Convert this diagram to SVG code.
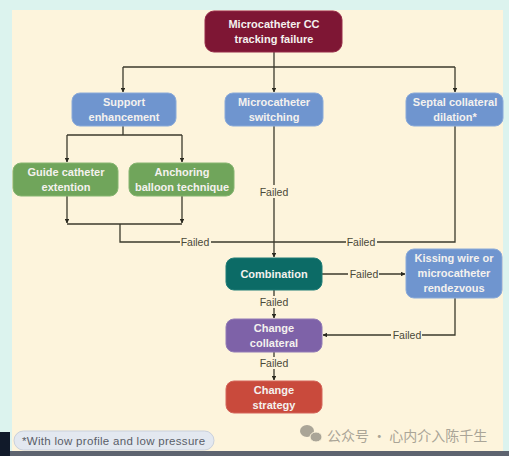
<svg xmlns="http://www.w3.org/2000/svg" width="509" height="456" viewBox="0 0 509 456">
<defs>
<style>
.node text{font-family:"Liberation Sans",Arial,sans-serif;font-size:11px;font-weight:bold;fill:#f4f1ee;text-anchor:middle}
.conn path{fill:none;stroke:#3b3a2c;stroke-width:1.3}
.lbl{font-family:"Liberation Sans",Arial,sans-serif;font-size:10.5px;fill:#4a4838;text-anchor:middle}
.lblbg{fill:#fdf4dc}
.blue{fill:#6f95cf;stroke:#8aaad9;stroke-width:1}
.green{fill:#70a55b;stroke:#86b571;stroke-width:1}
</style>
<marker id="ah" viewBox="0 0 10 10" refX="9" refY="5" markerWidth="4.5" markerHeight="4.5" orient="auto" markerUnits="userSpaceOnUse">
<path d="M0,0 L10,5 L0,10 z" fill="#2b2a20"/>
</marker>
</defs>
<rect x="0" y="0" width="509" height="456" fill="#dcf3ee"/>
<rect x="12" y="10" width="491" height="443" fill="#fdf4dc"/>
<rect x="0" y="451" width="509" height="5" fill="#5e6470"/>
<rect x="0" y="432" width="10" height="24" fill="#111a2a"/>

<g class="conn" id="connectors">
<path d="M274 52 V67"/>
<path d="M123 67 H455"/>
<path d="M123 67 V92" marker-end="url(#ah)"/>
<path d="M274 67 V92" marker-end="url(#ah)"/>
<path d="M455 67 V92" marker-end="url(#ah)"/>
<path d="M123 126 V135"/>
<path d="M67 135 H182"/>
<path d="M67 135 V162" marker-end="url(#ah)"/>
<path d="M182 135 V162" marker-end="url(#ah)"/>
<path d="M67 196 V223" marker-end="url(#ah)"/>
<path d="M182 196 V223" marker-end="url(#ah)"/>
<path d="M67 224 H182"/>
<path d="M120 224 V242 H455 V126"/>
<path d="M274 126 V257" marker-end="url(#ah)"/>
<path d="M322 274 H405" marker-end="url(#ah)"/>
<path d="M274 290 V318" marker-end="url(#ah)"/>
<path d="M455 298 V335 H323" marker-end="url(#ah)"/>
<path d="M274 352 V380" marker-end="url(#ah)"/>
<rect class="lblbg" x="180" y="236" width="31" height="12"/>
<text class="lbl" x="195" y="246">Failed</text>
<rect class="lblbg" x="346" y="236" width="31" height="12"/>
<text class="lbl" x="361" y="246">Failed</text>
<rect class="lblbg" x="259" y="185" width="31" height="13"/>
<text class="lbl" x="274" y="196">Failed</text>
<rect class="lblbg" x="348" y="268" width="31" height="12"/>
<text class="lbl" x="364" y="278">Failed</text>
<rect class="lblbg" x="259" y="296" width="31" height="12"/>
<text class="lbl" x="274" y="306">Failed</text>
<rect class="lblbg" x="391" y="329" width="31" height="12"/>
<text class="lbl" x="407" y="339">Failed</text>
<rect class="lblbg" x="259" y="357" width="31" height="12"/>
<text class="lbl" x="274" y="367">Failed</text>
</g>

<g class="node" id="n-failure">
<rect x="205" y="11" width="137" height="41" rx="9" fill="#7e1634" stroke="#962a48"/>
<text x="274" y="28">Microcatheter CC</text>
<text x="274" y="43">tracking failure</text>
</g>
<g class="node" id="n-support">
<rect class="blue" x="72" y="93" width="104" height="33" rx="8"/>
<text x="124" y="106">Support</text>
<text x="124" y="121">enhancement</text>
</g>
<g class="node" id="n-switching">
<rect class="blue" x="225" y="93" width="98" height="33" rx="8"/>
<text x="274" y="106">Microcatheter</text>
<text x="274" y="121">switching</text>
</g>
<g class="node" id="n-septal">
<rect class="blue" x="406" y="93" width="97" height="33" rx="8"/>
<text x="455" y="106">Septal collateral</text>
<text x="455" y="121">dilation*</text>
</g>
<g class="node" id="n-guide">
<rect class="green" x="13" y="163" width="105" height="33" rx="8"/>
<text x="66" y="176">Guide catheter</text>
<text x="66" y="191">extention</text>
</g>
<g class="node" id="n-anchoring">
<rect class="green" x="129" y="163" width="105" height="33" rx="8"/>
<text x="182" y="176">Anchoring</text>
<text x="182" y="191">balloon technique</text>
</g>
<g class="node" id="n-combination">
<rect x="226" y="258" width="96" height="32" rx="8" fill="#0c6b66" stroke="#1f7d77"/>
<text x="274" y="278">Combination</text>
</g>
<g class="node" id="n-kissing">
<rect class="blue" x="406" y="249" width="96" height="49" rx="8"/>
<text x="454" y="262">Kissing wire or</text>
<text x="454" y="277">microcatheter</text>
<text x="454" y="292">rendezvous</text>
</g>
<g class="node" id="n-collateral">
<rect x="226" y="319" width="96" height="33" rx="8" fill="#7e62a8" stroke="#927bb6"/>
<text x="274" y="332">Change</text>
<text x="274" y="347">collateral</text>
</g>
<g class="node" id="n-strategy">
<rect x="226" y="381" width="96" height="32" rx="8" fill="#c94a3c" stroke="#d4645a"/>
<text x="274" y="394">Change</text>
<text x="274" y="409">strategy</text>
</g>

<g id="footnote">
<rect x="14" y="431" width="200" height="19" rx="9.5" fill="#e3e8f0" stroke="#c9d0dc"/>
<text x="22" y="444.5" font-family="'Liberation Sans',Arial,sans-serif" font-size="11.5" letter-spacing="0.3" fill="#5a5e68">*With low profile and low pressure</text>
</g>
<g id="watermark" fill="#aaa597">
<ellipse cx="307" cy="431" rx="7" ry="6"/>
<ellipse cx="316" cy="437" rx="6" ry="5" stroke="#fdf4dc" stroke-width="1"/>
<text x="327" y="441" font-family="'Noto Sans CJK SC',sans-serif" font-size="14">公众号 · 心内介入陈千生</text>
</g>
</svg>
